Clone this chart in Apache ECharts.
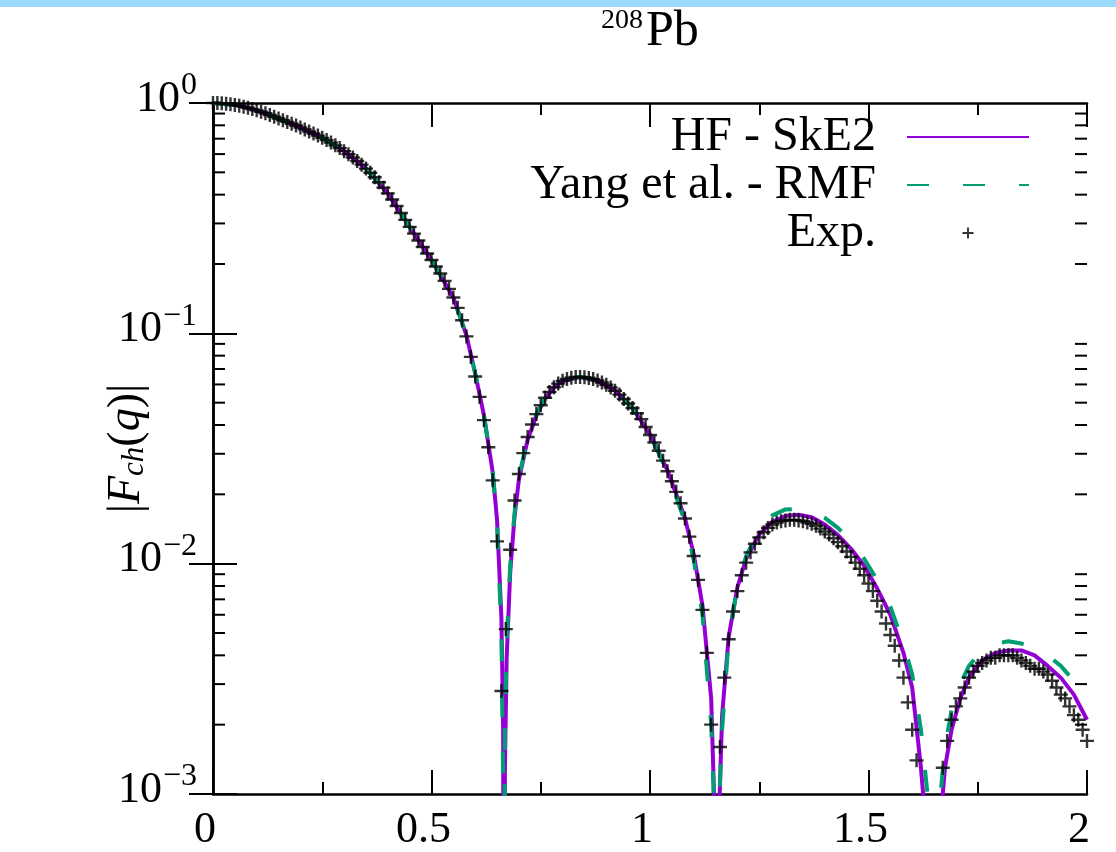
<!DOCTYPE html>
<html>
<head>
<meta charset="utf-8">
<script src="https://cdn.jsdelivr.net/npm/echarts@6/dist/echarts.min.js"></script>
<style>
html,body{margin:0;padding:0;background:#fff;}
#chart{width:1116px;height:852px;}
</style>
</head>
<body>
<div id="chart"></div>
<script>
// ---------- data ----------
const expQ = [0.00,0.01,0.02,0.03,0.04,0.05,0.06,0.07,0.08,0.09,0.10,0.11,0.12,0.13,0.14,0.15,0.16,0.17,0.18,0.19,
0.20,0.21,0.22,0.23,0.24,0.25,0.26,0.27,0.28,0.29,0.30,0.31,0.32,0.33,0.34,0.35,0.36,0.37,0.38,0.39,
0.40,0.41,0.42,0.43,0.44,0.45,0.46,0.47,0.48,0.49,0.50,0.51,0.52,0.53,0.54,0.55,0.56,0.57,0.58,0.59,
0.60,0.61,0.62,0.63,0.64,0.65,0.66,0.67,0.68,0.69,0.70,0.71,0.72,0.73,0.74,0.75,0.76,0.77,0.78,0.79,
0.80,0.81,0.82,0.83,0.84,0.85,0.86,0.87,0.88,0.89,0.90,0.91,0.92,0.93,0.94,0.95,0.96,0.97,0.98,0.99,
1.00,1.01,1.02,1.03,1.04,1.05,1.06,1.07,1.08,1.09,1.10,1.11,1.12,1.13,1.14,1.15,1.16,1.17,1.18,1.19,
1.20,1.21,1.22,1.23,1.24,1.25,1.26,1.27,1.28,1.29,1.30,1.31,1.32,1.33,1.34,1.35,1.36,1.37,1.38,1.39,
1.40,1.41,1.42,1.43,1.44,1.45,1.46,1.47,1.48,1.49,1.50,1.51,1.52,1.53,1.54,1.55,1.56,1.57,1.58,1.59,
1.60,1.61,1.62,1.63,1.64,1.65,1.66,1.67,1.68,1.69,1.70,1.71,1.72,1.73,1.74,1.75,1.76,1.77,1.78,1.79,
1.80,1.81,1.82,1.83,1.84,1.85,1.86,1.87,1.88,1.89,1.90,1.91,1.92,1.93,1.94,1.95,1.96,1.97,1.98,1.99,2.00];
const expF = [1.000,0.999,0.997,0.993,0.988,0.981,0.973,0.964,0.953,0.941,0.929,0.916,0.902,0.887,0.872,0.857,0.842,0.828,0.813,0.798,
0.783,0.768,0.752,0.737,0.722,0.706,0.690,0.673,0.655,0.637,0.618,0.599,0.580,0.560,0.540,0.519,0.498,0.476,0.453,0.429,
0.405,0.381,0.357,0.333,0.311,0.290,0.271,0.253,0.237,0.222,0.208,0.195,0.182,0.169,0.156,0.143,0.129,0.114,0.097,0.079,
0.065,0.053,0.042,0.032,0.023,0.0125,0.0028,0.0052,0.0115,0.0188,0.0245,0.0302,0.0355,0.0402,0.0446,0.0487,0.0525,0.0556,0.0583,0.0605,
0.0622,0.0634,0.0642,0.0646,0.0647,0.0645,0.0640,0.0633,0.0624,0.0612,0.0598,0.0582,0.0563,0.0542,0.0519,0.0496,0.0474,0.0450,0.0424,0.0392,
0.0362,0.0336,0.0309,0.0280,0.0252,0.0228,0.0205,0.0183,0.0157,0.0131,0.0108,0.0085,0.0063,0.0041,0.0020,0.0002,0.0016,0.0032,0.0047,0.0062,
0.0076,0.0089,0.0101,0.0112,0.0122,0.0130,0.0137,0.0143,0.0148,0.0151,0.0153,0.0154,0.0155,0.0155,0.0154,0.0153,0.0151,0.0149,0.0146,0.0142,
0.0138,0.0134,0.0129,0.0124,0.0119,0.0113,0.0107,0.0101,0.0095,0.0089,0.0082,0.0076,0.0069,0.0062,0.0055,0.0049,0.0044,0.0038,0.0032,0.0025,
0.0019,0.0014,0.0008,0.0003,0.0001,0.0005,0.0009,0.0013,0.0017,0.0021,0.0024,0.0026,0.0029,0.0032,0.0034,0.0036,0.0037,0.0038,0.0039,0.0039,
0.0040,0.0040,0.0040,0.0040,0.0039,0.0038,0.0037,0.0036,0.0035,0.0035,0.0034,0.0033,0.0031,0.0029,0.0027,0.0026,0.0024,0.0022,0.0021,0.0019,0.0017];

const hfQ = [0,0.05,0.10,0.15,0.20,0.25,0.30,0.35,0.40,0.45,0.50,0.55,0.58,0.60,0.62,0.64,0.65,0.66,0.664,0.666,0.668,0.672,0.68,0.69,0.70,
0.72,0.74,0.76,0.78,0.80,0.84,0.88,0.92,0.96,1.00,1.04,1.08,1.10,1.12,1.14,1.148,1.153,1.158,1.165,1.18,
1.20,1.22,1.25,1.28,1.31,1.34,1.37,1.40,1.43,1.46,1.49,1.52,1.55,1.58,1.60,1.62,1.635,1.648,1.66,1.675,
1.69,1.71,1.73,1.76,1.79,1.82,1.85,1.88,1.91,1.94,1.97,2.00];
const hfF = [1.0,0.981,0.929,0.857,0.783,0.706,0.618,0.519,0.405,0.290,0.208,0.143,0.098,0.067,0.044,0.025,0.0155,0.0058,0.0019,0.00001,0.0013,0.0039,0.0091,0.0160,0.0232,
0.0345,0.0440,0.0520,0.0581,0.0620,0.0646,0.0623,0.0564,0.0474,0.0364,0.0254,0.0158,0.0110,0.0066,0.0026,0.0008,0.00001,0.0008,0.0022,0.0048,
0.0079,0.0105,0.0134,0.0152,0.0161,0.0163,0.0159,0.0148,0.0133,0.0116,0.0098,0.0078,0.0060,0.0041,0.0029,0.0013,0.0006,0.00001,0.0006,0.0013,
0.0019,0.0026,0.0032,0.0038,0.0041,0.0042,0.0042,0.0040,0.0036,0.0032,0.0027,0.0021];

const rmfQ = [0,0.05,0.10,0.15,0.20,0.25,0.30,0.35,0.40,0.45,0.50,0.55,0.58,0.60,0.62,0.64,0.65,0.66,0.664,0.665,0.668,0.672,0.68,0.69,0.70,
0.72,0.74,0.76,0.78,0.80,0.84,0.88,0.92,0.96,1.00,1.04,1.08,1.10,1.12,1.14,1.145,1.152,1.16,1.165,1.18,
1.20,1.22,1.25,1.28,1.31,1.34,1.37,1.40,1.43,1.46,1.49,1.52,1.55,1.58,1.60,1.62,1.635,1.648,1.66,1.675,
1.69,1.71,1.73,1.76,1.79,1.82,1.85,1.88,1.91,1.94,1.97,2.00];
const rmfF = [1.0,0.981,0.929,0.857,0.783,0.706,0.618,0.519,0.405,0.290,0.208,0.143,0.098,0.067,0.044,0.025,0.0150,0.0050,0.0011,0.00001,0.0019,0.0045,0.0098,0.0166,0.0238,
0.0350,0.0445,0.0523,0.0583,0.0622,0.0648,0.0625,0.0565,0.0473,0.0362,0.0250,0.0152,0.0104,0.0060,0.0020,0.0011,0.00001,0.0011,0.0019,0.0047,
0.0080,0.0108,0.0140,0.0162,0.0172,0.0173,0.0168,0.0158,0.0143,0.0125,0.0105,0.0085,0.0065,0.0045,0.0033,0.0019,0.0010,0.00001,0.0008,0.0016,
0.0023,0.0030,0.0036,0.0042,0.0045,0.0046,0.0045,0.0043,0.0040,0.0036,0.0031,0.0025];

const xTicks = [0, 0.5, 1, 1.5, 2];
const yMinorTicks = [0.002,0.003,0.004,0.005,0.006,0.007,0.008,0.009,
                     0.02,0.03,0.04,0.05,0.06,0.07,0.08,0.09,
                     0.2,0.3,0.4,0.5,0.6,0.7,0.8,0.9];
const seriesNames = ['HF - SkE2', 'Yang et al. - RMF', 'Exp.'];
const titleIso = '208';
const titleEl = 'Pb';

// ---------- chart ----------
const FONT = "'Liberation Serif', 'Times New Roman', serif";
const PURPLE = '#9400d3';
const GREEN = '#009e73';
const PLUS = 'path://M0,5.8 L14,5.8 L14,8.2 L0,8.2 Z M5.8,0 L8.2,0 L8.2,14 L5.8,14 Z';

const chart = echarts.init(document.getElementById('chart'), null, {renderer: 'canvas'});

function pairs(q, f) { return q.map((v, i) => [v, f[i]]); }

function yLabel(v) {
  const e = Math.round(Math.log10(v));
  const s = e < 0 ? '\u2212' + (-e) : String(e);
  return '{m|10}{s|' + s + '}';
}

const commonX = {
  type: 'value', min: 0, max: 2, interval: 0.5,
  axisLine: {show: true, lineStyle: {color: '#000', width: 2.5}},
  axisTick: {show: true, inside: true, length: 24, lineStyle: {color: '#000', width: 2}},
  minorTick: {show: true, splitNumber: 2, length: 12, lineStyle: {color: '#000', width: 2}},
  splitLine: {show: false}
};
const commonY = {
  type: 'log', logBase: 10, min: 0.001, max: 1,
  axisLine: {show: true, lineStyle: {color: '#000', width: 2.5}},
  axisTick: {show: true, inside: true, length: 24, lineStyle: {color: '#000', width: 2}},
  minorTick: {show: false},
  splitLine: {show: false}
};

const option = {
  animation: false,
  backgroundColor: '#fff',
  graphic: [{type: 'rect', shape: {x: 0, y: 0, width: 1116, height: 7}, style: {fill: '#9dd8ff'}, silent: true}],
  title: {
    text: '{s|' + titleIso + '}{m|' + titleEl + '}',
    left: 596, top: 2,
    textStyle: {
      fontFamily: FONT, color: '#000', fontWeight: 'normal',
      rich: {
        s: {fontFamily: FONT, fontSize: 28, fontWeight: 'normal', color: '#000', padding: [0, 3, 22, 0]},
        m: {fontFamily: FONT, fontSize: 50, fontWeight: 'normal', color: '#000'}
      }
    }
  },
  grid: {left: 213, right: 29, top: 103, bottom: 51, containLabel: false},
  legend: {
    data: [
      {name: seriesNames[0], itemStyle: {opacity: 0}},
      {name: seriesNames[1], itemStyle: {opacity: 0}},
      {name: seriesNames[2], icon: PLUS}
    ],
    orient: 'vertical', align: 'right', right: 81, top: 108,
    itemWidth: 122, itemHeight: 11, itemGap: 0,
    symbolKeepAspect: true,
    textStyle: {fontFamily: FONT, fontSize: 48, color: '#000', lineHeight: 47, padding: [0, 26, 0, 0]},
    selectedMode: false
  },
  xAxis: [
    Object.assign({}, commonX, {
      position: 'bottom',
      axisLabel: {show: true, fontFamily: FONT, fontSize: 44, color: '#000', margin: 14,
        padding: [0, 16, 0, 0],
        formatter: v => (xTicks.indexOf(v) >= 0 ? String(v) : '')}
    }),
    Object.assign({}, commonX, {position: 'top', axisLabel: {show: false}})
  ],
  yAxis: [
    Object.assign({}, commonY, {
      position: 'left',
      name: '|{i|F}{sub|ch}({i|q})|',
      nameLocation: 'middle', nameRotate: 90, nameGap: 63, nameMoveOverlap: false,
      nameTextStyle: {
        fontFamily: FONT, fontSize: 46, color: '#000',
        rich: {
          i: {fontFamily: FONT, fontSize: 46, fontStyle: 'italic', color: '#000'},
          sub: {fontFamily: FONT, fontSize: 31, fontStyle: 'italic', color: '#000', padding: [16, 0, 0, 0]}
        }
      },
      axisLabel: {
        show: true, margin: 16, formatter: yLabel,
        rich: {
          m: {fontFamily: FONT, fontSize: 44, color: '#000', padding: [0, 0, 8, 0]},
          s: {fontFamily: FONT, fontSize: 32, color: '#000', padding: [0, 0, 34, 1]}
        }
      }
    }),
    Object.assign({}, commonY, {position: 'right', axisLabel: {show: false}})
  ],
  series: [
    {
      name: seriesNames[0], type: 'line', data: pairs(hfQ, hfF),
      showSymbol: false, symbol: 'none', smooth: false, clip: true,
      lineStyle: {color: PURPLE, width: 4}, itemStyle: {color: PURPLE}, z: 3
    },
    {
      name: seriesNames[1], type: 'line', data: pairs(rmfQ, rmfF),
      showSymbol: false, symbol: 'none', smooth: false, clip: true,
      lineStyle: {color: GREEN, width: 4, type: [22, 34]}, itemStyle: {color: GREEN}, z: 4
    },
    {
      name: seriesNames[2], type: 'scatter', data: pairs(expQ, expF),
      symbol: PLUS, symbolSize: 14, symbolKeepAspect: true, clip: true,
      itemStyle: {color: '#000'}, z: 5
    },
    {
      name: 'minor', type: 'custom', silent: true, clip: false, z: 6,
      data: yMinorTicks.map(v => [0, v]),
      renderItem: function (params, api) {
        const y = api.coord([0, api.value(1)])[1];
        const cs = params.coordSys;
        return {
          type: 'group',
          children: [
            {type: 'line', shape: {x1: cs.x, y1: y, x2: cs.x + 12, y2: y}, style: {stroke: '#000', lineWidth: 2}},
            {type: 'line', shape: {x1: cs.x + cs.width - 12, y1: y, x2: cs.x + cs.width, y2: y}, style: {stroke: '#000', lineWidth: 2}}
          ]
        };
      }
    }
  ]
};
chart.setOption(option);
</script>
</body>
</html>
